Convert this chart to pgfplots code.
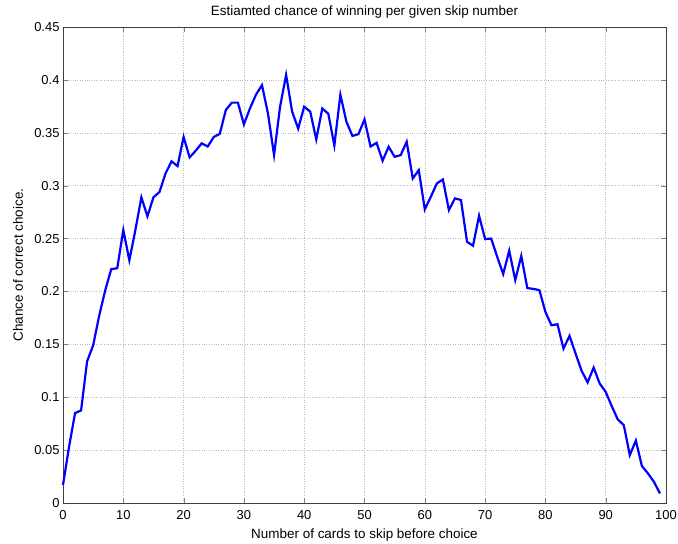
\documentclass[border=0pt]{standalone}
\usepackage{fontspec}
\setmainfont{Liberation Sans}
\usepackage{pgfplots}
\pgfplotsset{compat=1.18}

\begin{document}
\begin{tikzpicture}
\useasboundingbox (0,0) rectangle (678bp,544bp);
\begin{axis}[
    at={(63bp,41bp)}, anchor=south west,
    scale only axis,
    width=603bp, height=476bp,
    xmin=0, xmax=100,
    ymin=0, ymax=0.45,
    xtick={0,10,...,100},
    ytick={0,0.05,...,0.45},
    yticklabels={0,0.05,0.1,0.15,0.2,0.25,0.3,0.35,0.4,0.45},
    tick pos=both, tick align=inside,
    major tick length=5bp,
    grid=major,
    grid style={dotted, gray!55, line width=0.5bp},
    axis line style={black!75},
    /pgf/number format/assume math mode=true,
    tick label style={font=\fontsize{13}{15}\selectfont},
    xticklabel style={yshift=-4bp},
    label style={font=\fontsize{13.5}{15}\selectfont},
    xlabel={Number of cards to skip before choice},
    ylabel={Chance of correct choice.},
    xlabel style={at={(0.5,-0.0672)}, anchor=center},
    ylabel style={at={(-0.0746,0.5)}, anchor=center},
    clip=false,
]
% estimated win probability per skip count
\addplot[color=blue, line width=2.2bp, mark=none] coordinates {
    (0,0.017)(1,0.053)(2,0.085)(3,0.0875)(4,0.134)(5,0.149)(6,0.177)(7,0.201)(8,0.221)(9,0.222)
    (10,0.258)(11,0.2295)(12,0.258)(13,0.289)(14,0.271)(15,0.289)(16,0.294)(17,0.3115)(18,0.323)(19,0.3185)
    (20,0.346)(21,0.3267)(22,0.333)(23,0.340)(24,0.337)(25,0.346)(26,0.349)(27,0.3715)(28,0.3785)(29,0.3785)
    (30,0.358)(31,0.373)(32,0.386)(33,0.395)(34,0.368)(35,0.329)(36,0.3747)(37,0.4047)(38,0.370)(39,0.354)
    (40,0.3747)(41,0.370)(42,0.3437)(43,0.373)(44,0.368)(45,0.338)(46,0.386)(47,0.3605)(48,0.347)(49,0.3487)
    (50,0.3627)(51,0.337)(52,0.3405)(53,0.3236)(54,0.3368)(55,0.3273)(56,0.3289)(57,0.3415)(58,0.3068)(59,0.3147)
    (60,0.2776)(61,0.2895)(62,0.3021)(63,0.3059)(64,0.2769)(65,0.288)(66,0.2864)(67,0.247)(68,0.2432)(69,0.2716)
    (70,0.2495)(71,0.250)(72,0.2328)(73,0.2165)(74,0.2385)(75,0.2108)(76,0.2335)(77,0.2032)(78,0.2024)(79,0.2012)
    (80,0.1807)(81,0.168)(82,0.169)(83,0.146)(84,0.158)(85,0.1413)(86,0.125)(87,0.114)(88,0.128)(89,0.113)
    (90,0.105)(91,0.0916)(92,0.079)(93,0.0736)(94,0.0453)(95,0.059)(96,0.035)(97,0.028)(98,0.020)(99,0.009)
};
\node[font=\fontsize{13.5}{15}\selectfont, anchor=center]
    at (axis description cs:0.5,1.0315) {Estiamted chance of winning per given skip number};
\end{axis}
\end{tikzpicture}
\end{document}
